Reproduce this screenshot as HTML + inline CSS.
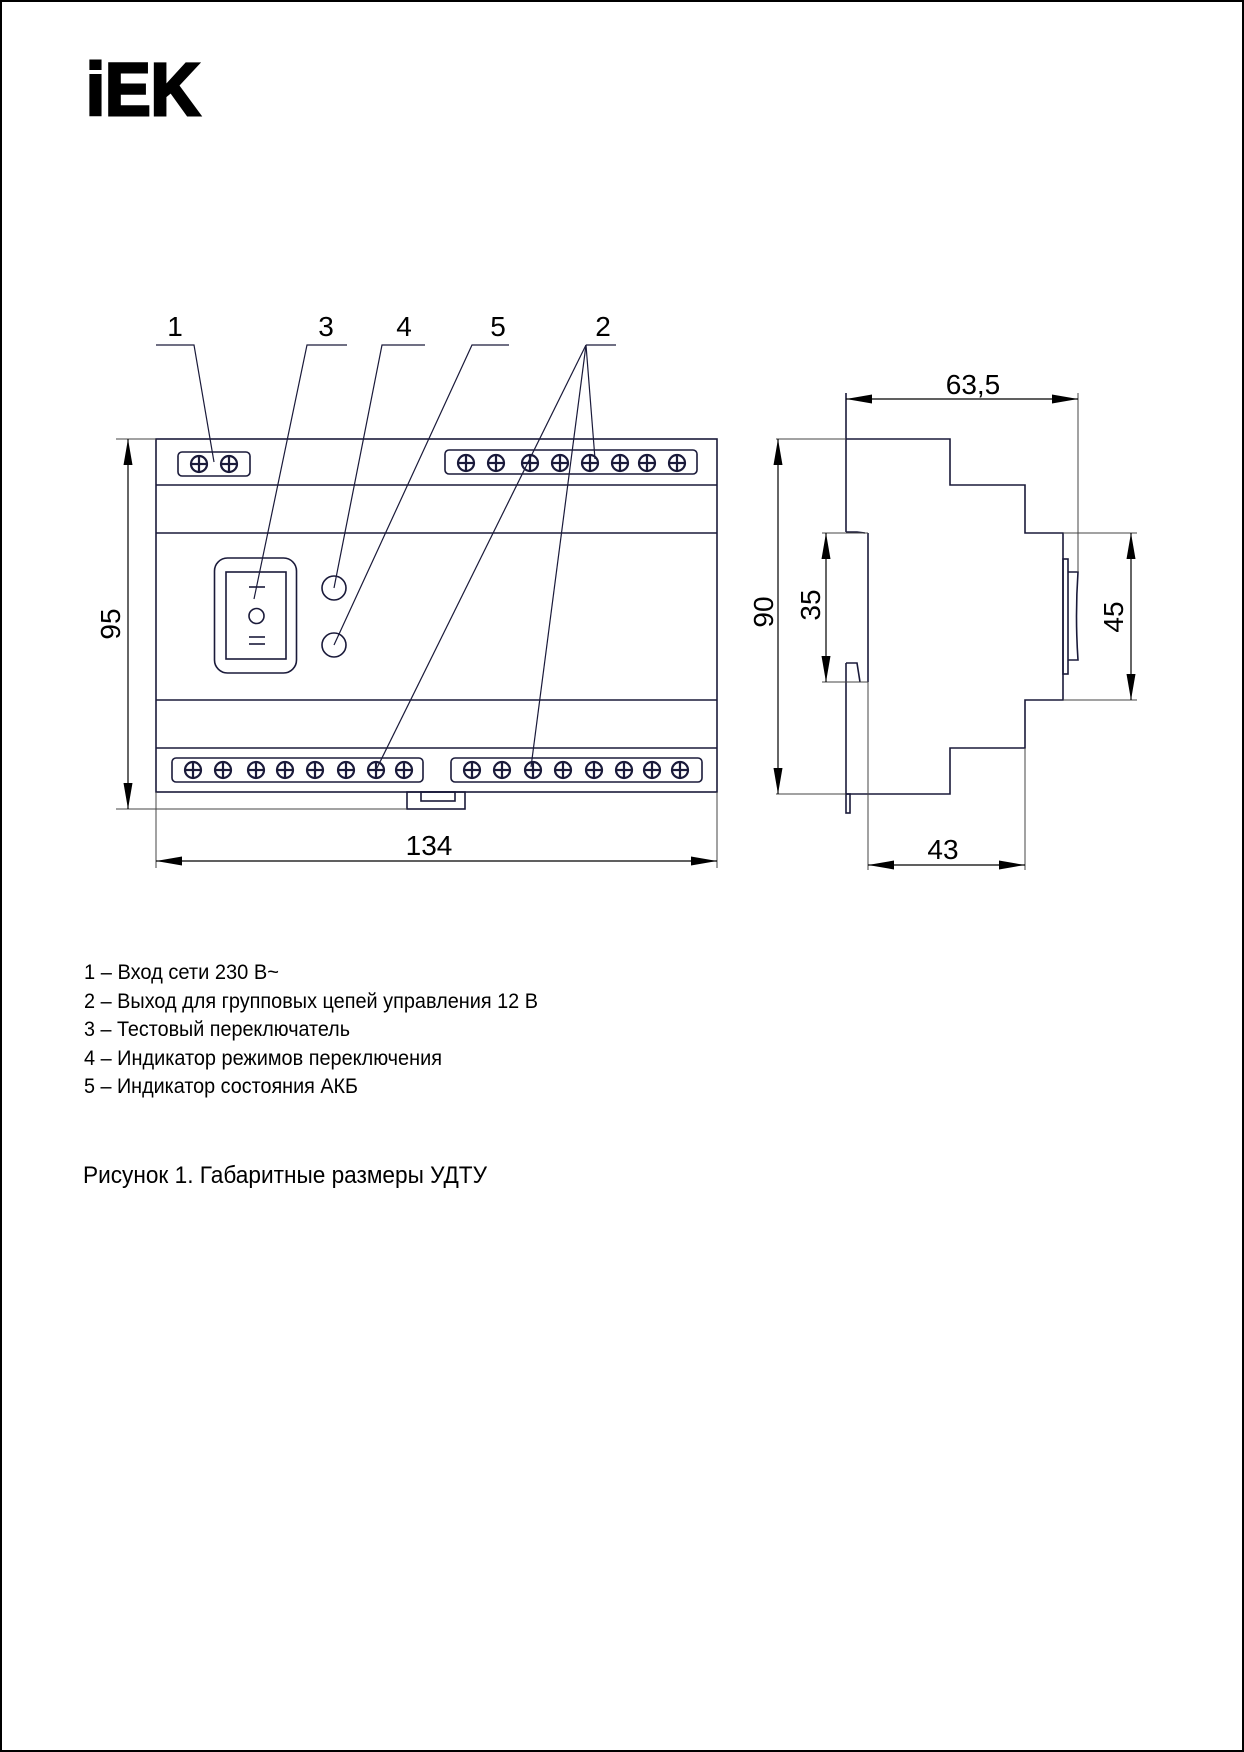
<!DOCTYPE html>
<html><head><meta charset="utf-8"><style>
html,body{margin:0;padding:0;background:#fff;}
svg{display:block;}
</style></head><body>
<svg width="1244" height="1752" viewBox="0 0 1244 1752" xmlns="http://www.w3.org/2000/svg" font-family="'Liberation Sans', sans-serif">
<defs>
<marker id="a" viewBox="0 0 26 10" refX="26" refY="5" markerWidth="26" markerHeight="10" markerUnits="userSpaceOnUse" orient="auto-start-reverse">
<path d="M0,0.5 L26,5 L0,9.5 Z" fill="#000"/>
</marker>
<g id="s"><circle r="8" fill="#fff" stroke="#1a1a3a" stroke-width="2.2"/><line x1="-8" y1="0" x2="8" y2="0" stroke="#1a1a3a" stroke-width="2.2"/><line x1="0" y1="-8" x2="0" y2="8" stroke="#1a1a3a" stroke-width="2.2"/></g>
</defs>
<rect x="1" y="1" width="1242" height="1750" fill="none" stroke="#000" stroke-width="2"/>
<text x="86" y="115" font-size="74" font-weight="bold" stroke="#000" stroke-width="3" textLength="114" lengthAdjust="spacingAndGlyphs">iEK</text>

<g stroke="#1a1a3a" fill="none" stroke-width="1.6">
<rect x="156" y="439" width="561" height="353"/>
<line x1="156" y1="485" x2="717" y2="485"/>
<line x1="156" y1="533" x2="717" y2="533"/>
<line x1="156" y1="700" x2="717" y2="700"/>
<line x1="156" y1="748" x2="717" y2="748"/>
<rect x="178" y="452" width="72" height="24" rx="4"/>
<rect x="445" y="450" width="252" height="24" rx="4"/>
<rect x="172" y="758" width="251" height="24" rx="4"/>
<rect x="451" y="758" width="251" height="24" rx="4"/>
<rect x="407" y="792" width="58" height="17"/>
<rect x="421" y="792" width="34" height="9"/>
<rect x="214.5" y="558" width="82" height="115" rx="13"/>
<rect x="226" y="572" width="60" height="87"/>
<line x1="249" y1="587" x2="265" y2="587"/>
<circle cx="256.5" cy="616" r="7.5"/>
<line x1="249" y1="637" x2="265" y2="637"/>
<line x1="249" y1="644" x2="265" y2="644"/>
<circle cx="334" cy="588" r="12"/>
<circle cx="334" cy="645" r="12"/>
</g>
<g>
<use href="#s" x="199" y="464"/><use href="#s" x="229" y="464"/>
<use href="#s" x="466" y="463"/><use href="#s" x="496" y="463"/><use href="#s" x="530" y="463"/><use href="#s" x="560" y="463"/><use href="#s" x="590" y="463"/><use href="#s" x="620" y="463"/><use href="#s" x="647" y="463"/><use href="#s" x="677" y="463"/>
<use href="#s" x="193" y="770"/><use href="#s" x="223" y="770"/><use href="#s" x="256" y="770"/><use href="#s" x="285" y="770"/><use href="#s" x="315" y="770"/><use href="#s" x="346" y="770"/><use href="#s" x="376" y="770"/><use href="#s" x="404" y="770"/>
<use href="#s" x="472" y="770"/><use href="#s" x="502" y="770"/><use href="#s" x="533" y="770"/><use href="#s" x="563" y="770"/><use href="#s" x="594" y="770"/><use href="#s" x="624" y="770"/><use href="#s" x="652" y="770"/><use href="#s" x="680" y="770"/>
</g>
<g stroke="#1a1a3a" stroke-width="1.2" fill="none">
<polyline points="156,345 194,345 214,462"/>
<polyline points="347,345 307,345 254,599"/>
<polyline points="425,345 382,345 334,588"/>
<polyline points="509,345 472,345 334,645"/>
<line x1="586" y1="345" x2="616" y2="345"/>
<line x1="586" y1="345" x2="595" y2="459"/>
<line x1="586" y1="345" x2="376" y2="770"/>
<line x1="586" y1="345" x2="531" y2="767"/>
</g>
<g font-size="28" text-anchor="middle" fill="#000">
<text x="175" y="336">1</text><text x="326" y="336">3</text><text x="404" y="336">4</text><text x="498" y="336">5</text><text x="603" y="336">2</text>
</g>
<g stroke="#444" stroke-width="1" fill="none">
<line x1="116" y1="439" x2="156" y2="439"/>
<line x1="116" y1="809" x2="407" y2="809"/>
<line x1="156" y1="792" x2="156" y2="868"/>
<line x1="717" y1="792" x2="717" y2="868"/>
</g>
<g stroke="#000" stroke-width="1.2">
<line x1="128" y1="439" x2="128" y2="809" marker-start="url(#a)" marker-end="url(#a)"/>
<line x1="156" y1="861" x2="717" y2="861" marker-start="url(#a)" marker-end="url(#a)"/>
</g>
<text x="429" y="855" font-size="28" text-anchor="middle">134</text>
<text transform="translate(120,624) rotate(-90)" font-size="28" text-anchor="middle">95</text>

<g stroke="#1a1a3a" stroke-width="1.6" fill="none">
<polyline points="846,439 950,439 950,485 1025,485 1025,533 1063,533 1063,700 1025,700 1025,748 950,748 950,794 846,794"/>
<line x1="846" y1="393" x2="846" y2="532"/>
<polyline points="846,532 857,532 865,533"/>
<line x1="868" y1="533" x2="868" y2="682"/>
<line x1="846" y1="663" x2="846" y2="794"/>
<polyline points="846,663 857,663 860,682"/>
<rect x="846" y="794" width="4" height="19"/>
<rect x="1063" y="559" width="5" height="115"/>
<path d="M1068,572 L1078,572 Q1075,616 1078,660 L1068,660"/>
</g>
<g stroke="#444" stroke-width="1" fill="none">
<line x1="776" y1="439" x2="846" y2="439"/>
<line x1="776" y1="794" x2="846" y2="794"/>
<line x1="822" y1="533" x2="868" y2="533"/>
<line x1="822" y1="682" x2="868" y2="682"/>
<line x1="868" y1="682" x2="868" y2="870"/>
<line x1="1025" y1="748" x2="1025" y2="870"/>
<line x1="1078" y1="393" x2="1078" y2="572"/>
<line x1="1063" y1="533" x2="1137" y2="533"/>
<line x1="1063" y1="700" x2="1137" y2="700"/>
</g>
<g stroke="#000" stroke-width="1.2">
<line x1="846" y1="399" x2="1078" y2="399" marker-start="url(#a)" marker-end="url(#a)"/>
<line x1="778" y1="439" x2="778" y2="794" marker-start="url(#a)" marker-end="url(#a)"/>
<line x1="826" y1="533" x2="826" y2="682" marker-start="url(#a)" marker-end="url(#a)"/>
<line x1="1131" y1="533" x2="1131" y2="700" marker-start="url(#a)" marker-end="url(#a)"/>
<line x1="868" y1="865" x2="1025" y2="865" marker-start="url(#a)" marker-end="url(#a)"/>
</g>
<g font-size="28" text-anchor="middle">
<text x="973" y="394">63,5</text>
<text x="943" y="859">43</text>
<text transform="translate(773,612) rotate(-90)">90</text>
<text transform="translate(820,605) rotate(-90)">35</text>
<text transform="translate(1123,617) rotate(-90)">45</text>
</g>

<g font-size="21" fill="#000">
<text x="84" y="979" textLength="195" lengthAdjust="spacingAndGlyphs">1 – Вход сети 230 В~</text>
<text x="84" y="1008" textLength="454" lengthAdjust="spacingAndGlyphs">2 – Выход для групповых цепей управления 12 В</text>
<text x="84" y="1036" textLength="266" lengthAdjust="spacingAndGlyphs">3 – Тестовый переключатель</text>
<text x="84" y="1065" textLength="358" lengthAdjust="spacingAndGlyphs">4 – Индикатор режимов переключения</text>
<text x="84" y="1093" textLength="274" lengthAdjust="spacingAndGlyphs">5 – Индикатор состояния АКБ</text>
<text x="83" y="1183" font-size="24" textLength="404" lengthAdjust="spacingAndGlyphs">Рисунок 1. Габаритные размеры УДТУ</text>
</g>
</svg>
</body></html>
